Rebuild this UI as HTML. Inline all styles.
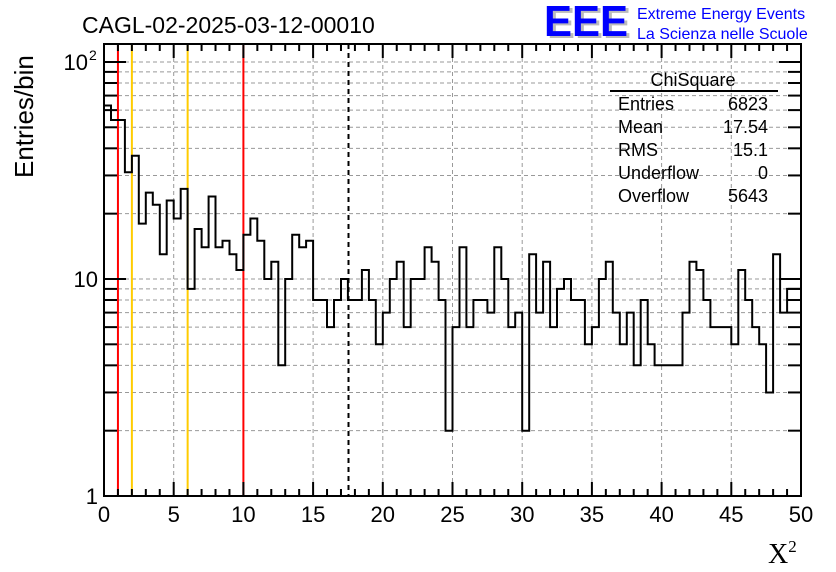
<!DOCTYPE html>
<html><head><meta charset="utf-8"><style>
body{margin:0;background:#fff;}
svg{display:block;font-family:"Liberation Sans",sans-serif;}
</style></head><body>
<svg id="chart" width="836" height="572" viewBox="0 0 836 572">
<rect width="836" height="572" fill="#fff"/>
<g id="grid"></g>
<g id="vlines"></g>
<path id="hist" fill="none" stroke="#000" stroke-width="2"/>
<g id="axes"></g>
<text x="82" y="33" font-size="23">CAGL-02-2025-03-12-00010</text>
<g>
<text x="547" y="38" font-size="44" font-weight="bold" fill="#bbb" textLength="84" lengthAdjust="spacingAndGlyphs">EEE</text>
<text x="544" y="36" font-size="44" font-weight="bold" fill="#0000ff" textLength="84" lengthAdjust="spacingAndGlyphs">EEE</text>
<text x="637" y="19" font-size="16" fill="#0000ff">Extreme Energy Events</text>
<text x="637" y="39" font-size="16" fill="#0000ff">La Scienza nelle Scuole</text>
</g>
<text transform="translate(33,178) rotate(-90)" font-size="26">Entries/bin</text>
<text x="768" y="563" font-size="28" font-family="Liberation Serif,serif">X<tspan font-size="17" dy="-11">2</tspan></text>
<g font-size="18">
<text x="693" y="86" text-anchor="middle">ChiSquare</text>
<line x1="610" y1="91" x2="778" y2="91" stroke="#000" stroke-width="2"/>
<text x="618" y="110">Entries</text><text x="768" y="110" text-anchor="end">6823</text>
<text x="618" y="133">Mean</text><text x="768" y="133" text-anchor="end">17.54</text>
<text x="618" y="156">RMS</text><text x="768" y="156" text-anchor="end">15.1</text>
<text x="618" y="179">Underflow</text><text x="768" y="179" text-anchor="end">0</text>
<text x="618" y="202">Overflow</text><text x="768" y="202" text-anchor="end">5643</text>
</g>
</svg>
<script>
const binCounts = [63,54,54,31,37,18,25,22,13,23,19,26,9,17,14,24,14,15,13,11,16,19,15,10,12,4,10,16,14,15,8,8,6,8,10,8,8,11,8,5,7,10,12,6,10,10,14,12,8,2,6,14,6,8,8,7,14,10,6,7,2,13,7,12,6,9,10,8,8,5,6,10,12,7,5,7,4,8,5,4,4,4,4,7,12,11,8,6,6,6,5,11,8,6,5,3,13,7,9,9];
const xTicks = [0,5,10,15,20,25,30,35,40,45,50];
const yDecades = [1,10,100];
const redLines = [1,10];
const yellowLines = [2,6];
const meanValue = 17.54;
const xMin=0,xMax=50,yMin=1,yMax=121;
const L=104,R=801,T=44,B=496;
const sx=v=>L+(v-xMin)/(xMax-xMin)*(R-L);
const sy=v=>B-(Math.log10(v)-Math.log10(yMin))/(Math.log10(yMax)-Math.log10(yMin))*(B-T);
const NS='http://www.w3.org/2000/svg';
function mk(tag,attrs,parent){const e=document.createElementNS(NS,tag);for(const k in attrs)e.setAttribute(k,attrs[k]);parent.appendChild(e);return e;}
const grid=document.getElementById('grid'),axes=document.getElementById('axes'),vl=document.getElementById('vlines');
// horizontal grid & y ticks
yDecades.forEach(d=>{for(let m=1;m<10;m++){const v=d*m;if(v>yMax)break;const y=sy(v);
 if(v>yMin&&v<yMax){const g=mk('line',{x1:L,x2:R,y1:y,y2:y,stroke:'#999','stroke-dasharray':'4,3','stroke-width':1},grid);
 }
 const len=m===1?22:13;
 mk('line',{x1:L,x2:L+len,y1:y,y2:y,stroke:'#000','stroke-width':2},axes);
 mk('line',{x1:R,x2:R-len,y1:y,y2:y,stroke:'#000','stroke-width':2},axes);
}});
// y labels
const yl1=mk('text',{x:98,y:sy(1)+8,'font-size':22,'text-anchor':'end'},axes);yl1.textContent='1';

const yl2=mk('text',{x:98,y:sy(10)+8,'font-size':22,'text-anchor':'end'},axes);yl2.textContent='10';

const yl3=mk('text',{x:88,y:sy(100)+8,'font-size':22,'text-anchor':'end'},axes);yl3.textContent='10';

const sup=mk('text',{x:89,y:sy(100)-2,'font-size':14},axes);sup.textContent='2';

// x grid & ticks
xTicks.forEach(t=>{const x=sx(t);
 if(t>xMin&&t<xMax){const g=mk('line',{x1:x,x2:x,y1:T,y2:B,stroke:'#999','stroke-dasharray':'4,3','stroke-width':1},grid);
 }
 const lb=mk('text',{x:x,y:522,'font-size':22,'text-anchor':'middle'},axes);lb.textContent=String(t);
 
});
for(let t=xMin;t<=xMax;t+=1){const x=sx(t);const len=(t%5===0)?14:7;
 mk('line',{x1:x,x2:x,y1:B,y2:B-len,stroke:'#000','stroke-width':2},axes);
 mk('line',{x1:x,x2:x,y1:T,y2:T+len,stroke:'#000','stroke-width':2},axes);}
mk('rect',{x:L,y:T,width:R-L,height:B-T,fill:'none',stroke:'#000','stroke-width':2},axes);
// reference lines
redLines.forEach(v=>{const l=mk('line',{x1:sx(v),x2:sx(v),y1:T,y2:B,stroke:'#ff0000','stroke-width':2},vl);
 });
yellowLines.forEach(v=>{const l=mk('line',{x1:sx(v),x2:sx(v),y1:T,y2:B,stroke:'#ffcc00','stroke-width':2},vl);
 });
const ml=mk('line',{x1:sx(meanValue),x2:sx(meanValue),y1:T,y2:B,stroke:'#000','stroke-width':2,'stroke-dasharray':'5,4'},vl);

// histogram
const bw=(xMax-xMin)/binCounts.length;
let d='';
binCounts.forEach((c,i)=>{const x0=sx(xMin+i*bw),x1=sx(xMin+(i+1)*bw);const y=sy(Math.max(c,yMin));
 d+=(i===0?'M':'L')+x0.toFixed(1)+','+y.toFixed(1)+'L'+x1.toFixed(1)+','+y.toFixed(1);});
document.getElementById('hist').setAttribute('d',d);
</script>
</body></html>
